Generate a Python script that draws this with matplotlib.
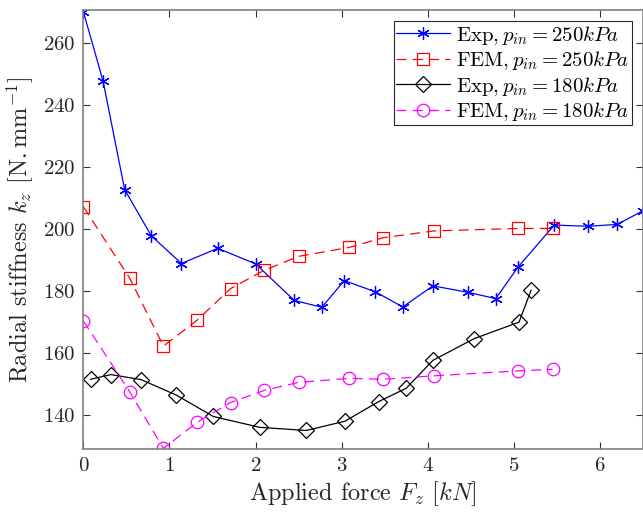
import matplotlib
matplotlib.use("Agg")
import matplotlib.pyplot as plt

plt.rcParams["font.family"] = "serif"
plt.rcParams["font.serif"] = ["cmr10"]
plt.rcParams["mathtext.fontset"] = "cm"
plt.rcParams["axes.formatter.use_mathtext"] = True

# Experimental, p_in = 250 kPa
exp250_x = [0.0, 0.23, 0.48, 0.79, 1.14, 1.56, 2.0, 2.45, 2.77, 3.03, 3.39, 3.71,
            4.06, 4.47, 4.79, 5.05, 5.47, 5.86, 6.2, 6.5]
exp250_y = [270.0, 247.5, 212.6, 197.7, 188.8, 193.7, 188.7, 176.9, 174.7, 183.3,
            179.7, 174.8, 181.6, 179.5, 177.5, 187.7, 201.2, 200.8, 201.4, 205.8]

# FEM, p_in = 250 kPa
fem_x = [0.0, 0.54, 0.93, 1.32, 1.71, 2.10, 2.50, 3.09, 3.48, 4.07, 5.05, 5.45]
fem250_y = [207.1, 184.0, 162.2, 170.5, 180.7, 186.6, 191.1, 194.0, 197.1, 199.3,
            200.1, 200.1]

# Experimental, p_in = 180 kPa
exp180_x = [0.085, 0.32, 0.67, 1.08, 1.51, 2.05, 2.59, 3.04, 3.43, 3.75, 4.06, 4.54,
            5.06, 5.20]
exp180_y = [151.5, 153.0, 151.4, 146.4, 139.5, 136.0, 135.0, 138.0, 144.3, 148.6,
            157.6, 164.6, 169.9, 180.2]

# FEM, p_in = 180 kPa
fem180_y = [170.3, 147.4, 129.2, 137.6, 144.0, 147.9, 150.5, 151.8, 151.5, 152.6,
            154.2, 154.7]

labels = [r"Exp$,p_{in}=250kPa$", r"FEM$,p_{in}=250kPa$",
          r"Exp$,p_{in}=180kPa$", r"FEM$,p_{in}=180kPa$"]

fig = plt.figure(figsize=(6.43, 5.15), dpi=100)
ax = fig.add_axes([0.1296, 0.128, 0.8704, 0.8526])

lw = 0.9
ax.plot(exp250_x, exp250_y, color="#0000ff", lw=lw, marker=(6, 2, 0),
        markersize=9, markeredgewidth=0.9, label=labels[0])
ax.plot(fem_x, fem250_y, color="#ff0000", lw=lw, dashes=(8, 5), marker="s",
        markersize=8, markerfacecolor="none", markeredgewidth=0.9, label=labels[1])
ax.plot(exp180_x, exp180_y, color="black", lw=lw, marker="D",
        markersize=8.5, markerfacecolor="none", markeredgewidth=0.9, label=labels[2])
ax.plot(fem_x, fem180_y, color="#ff00ff", lw=lw, dashes=(8, 5), marker="o",
        markersize=9, markerfacecolor="none", markeredgewidth=0.9, label=labels[3])

ax.set_xlim(0, 6.5)
ax.set_ylim(129.0, 270.5)
ax.set_xticks(range(0, 7))
ax.set_yticks(range(140, 261, 20))

for s in ax.spines.values():
    s.set_color("0.5")
    s.set_linewidth(1.2)
ax.tick_params(direction="in", length=5, width=0.8, color="0.2",
               top=True, right=True, labelsize=15, labelcolor="0.15", pad=6)

ax.set_xlabel(r"Applied force $F_z$ $[kN]$", fontsize=17.5, color="0.15", labelpad=3)
ax.set_ylabel(r"Radial stiffness $k_z$ $[\mathrm{N.mm}^{-1}]$", fontsize=17.5,
              color="0.15", labelpad=5)

leg = ax.legend(loc="upper right", fontsize=15, frameon=True, fancybox=False,
                framealpha=1, edgecolor="0.15", borderpad=0.1, handlelength=2.6,
                handletextpad=0.3, labelspacing=0.12, borderaxespad=0.55)
leg.get_frame().set_linewidth(0.8)

fig.savefig("out.png", dpi=100)
